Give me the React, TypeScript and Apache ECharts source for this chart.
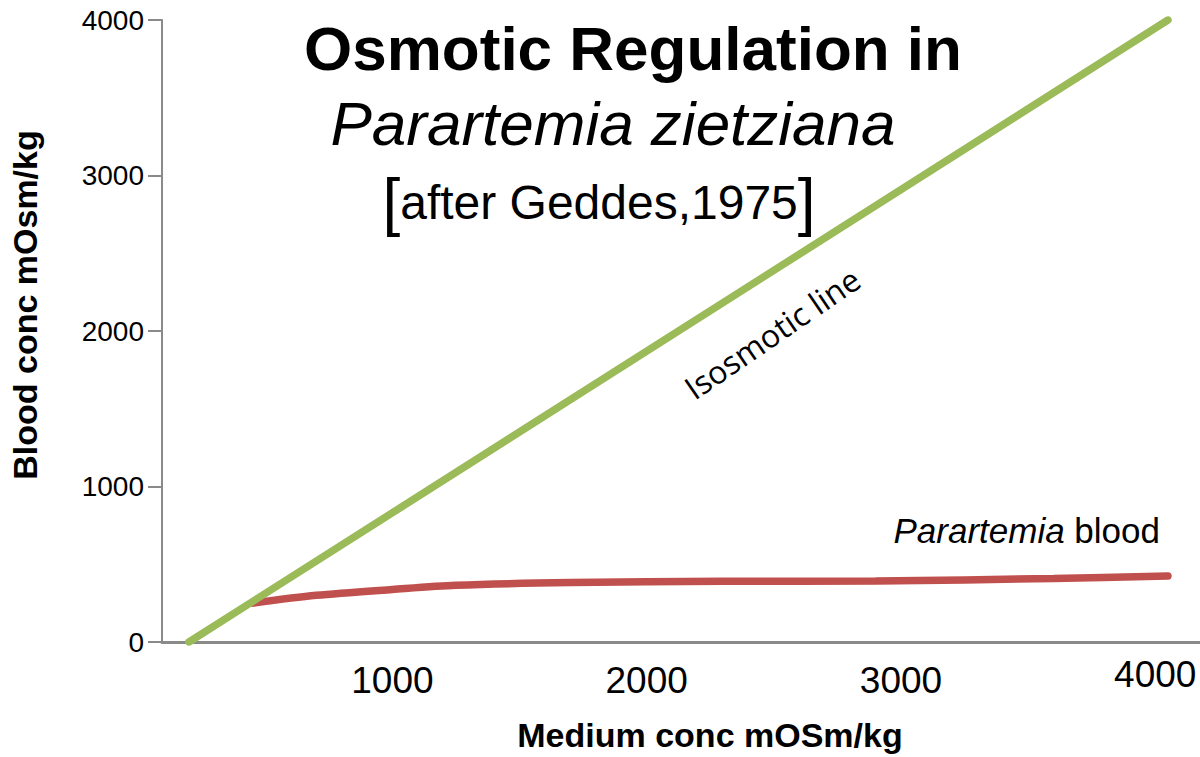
import React, { useEffect, useRef } from "react";
import * as echarts from "echarts";

const isoX = [200, 4050];
const isoY = [0, 4000];
const bloodX = [450, 700, 1000, 1250, 1700, 2300, 2900, 3600, 4050];
const bloodY = [250, 300, 338, 365, 382, 390, 393, 408, 425];
const xTickLabels = [1000, 2000, 3000, 4000];
const titleLine1 = "Osmotic Regulation in";
const titleLine2 = "Parartemia zietziana";
const titleLine3 = "after Geddes,1975";
const isoLabel = "Isosmotic line";
const bloodLabelItalic = "Parartemia";
const bloodLabelNormal = " blood";

const FONT = "'Liberation Sans', Arial, Helvetica, sans-serif";

export default function App() {
  const ref = useRef<HTMLDivElement>(null);
  useEffect(() => {
    if (!ref.current) return;
    const chart = echarts.init(ref.current, undefined, { renderer: "svg" });
    chart.setOption({
      animation: false,
      backgroundColor: "#ffffff",
      grid: { left: 155, right: 0, top: 20, bottom: 112, containLabel: false },
      xAxis: {
        type: "value",
        min: 94,
        max: 4176,
        name: "Medium conc mOSm/kg",
        nameLocation: "middle",
        nameGap: 76,
        nameTextStyle: {
          fontFamily: FONT,
          fontWeight: "bold",
          fontSize: 34,
          color: "#000",
          padding: [0, 0, 0, 58],
        },
        axisLine: { show: true, lineStyle: { color: "#8a8a8a", width: 3 } },
        axisTick: { show: false },
        splitLine: { show: false },
        axisLabel: {
          customValues: xTickLabels,
          fontFamily: FONT,
          fontSize: 37,
          color: "#000",
          margin: 20,
          formatter: (v: number) => (v === 4000 ? `{hi|${v}}` : `${v}`),
          rich: {
            hi: { fontFamily: FONT, fontSize: 37, color: "#000", lineHeight: 25 },
          },
        },
      },
      yAxis: {
        type: "value",
        min: 0,
        max: 4000,
        interval: 1000,
        name: "Blood conc mOsm/kg",
        nameLocation: "middle",
        nameRotate: 90,
        nameGap: 120,
        nameTextStyle: {
          fontFamily: FONT,
          fontWeight: "bold",
          fontSize: 34,
          color: "#000",
          padding: [0, 0, 0, 52],
        },
        axisLine: { show: true, lineStyle: { color: "#8a8a8a", width: 2 } },
        axisTick: { show: true, inside: false, length: 14, lineStyle: { color: "#8a8a8a", width: 2 } },
        splitLine: { show: false },
        axisLabel: {
          fontFamily: FONT,
          fontSize: 28,
          color: "#000",
          margin: 18,
          formatter: (v: number) => `${v}`,
        },
      },
      series: [
        {
          type: "line",
          name: "Isosmotic line",
          data: isoX.map((x, i) => [x, isoY[i]]),
          symbol: "none",
          lineStyle: { color: "#9BBB59", width: 7.5, cap: "round" },
          z: 3,
        },
        {
          type: "line",
          name: "Parartemia blood",
          data: bloodX.map((x, i) => [x, bloodY[i]]),
          symbol: "none",
          smooth: 0.3,
          lineStyle: { color: "#C0504D", width: 7.5, cap: "round" },
          z: 2,
        },
      ],
      graphic: [
        {
          type: "text",
          x: 633,
          y: 48,
          style: {
            text: titleLine1,
            font: `bold 62px ${FONT}`,
            fill: "#000",
            textAlign: "center",
            textVerticalAlign: "middle",
          },
        },
        {
          type: "text",
          x: 613,
          y: 123,
          style: {
            text: titleLine2,
            font: `italic 62px ${FONT}`,
            fill: "#000",
            textAlign: "center",
            textVerticalAlign: "middle",
          },
        },
        {
          type: "text",
          x: 599,
          y: 202,
          style: {
            text: `{br|[}{t|${titleLine3}}{br|]}`,
            fill: "#000",
            textAlign: "center",
            textVerticalAlign: "middle",
            rich: {
              br: { fontFamily: FONT, fontSize: 64, fill: "#000", verticalAlign: "middle" },
              t: { fontFamily: FONT, fontSize: 48, fill: "#000", verticalAlign: "middle" },
            },
          },
        },
        {
          type: "text",
          x: 772,
          y: 333,
          rotation: 0.6,
          style: {
            text: isoLabel,
            font: `32px 'Open Sans', sans-serif`,
            fill: "#000",
            textAlign: "center",
            textVerticalAlign: "middle",
          },
        },
        {
          type: "text",
          x: 1160,
          y: 530,
          style: {
            text: `{i|${bloodLabelItalic}}{n|${bloodLabelNormal}}`,
            fill: "#000",
            textAlign: "right",
            textVerticalAlign: "middle",
            rich: {
              i: { fontFamily: FONT, fontStyle: "italic", fontSize: 35, fill: "#000" },
              n: { fontFamily: FONT, fontSize: 35, fill: "#000" },
            },
          },
        },
      ],
    });
    return () => chart.dispose();
  }, []);
  return (
    <div
      ref={ref}
      style={{ position: "fixed", left: 0, top: 0, width: 1200, height: 757 }}
    />
  );
}
